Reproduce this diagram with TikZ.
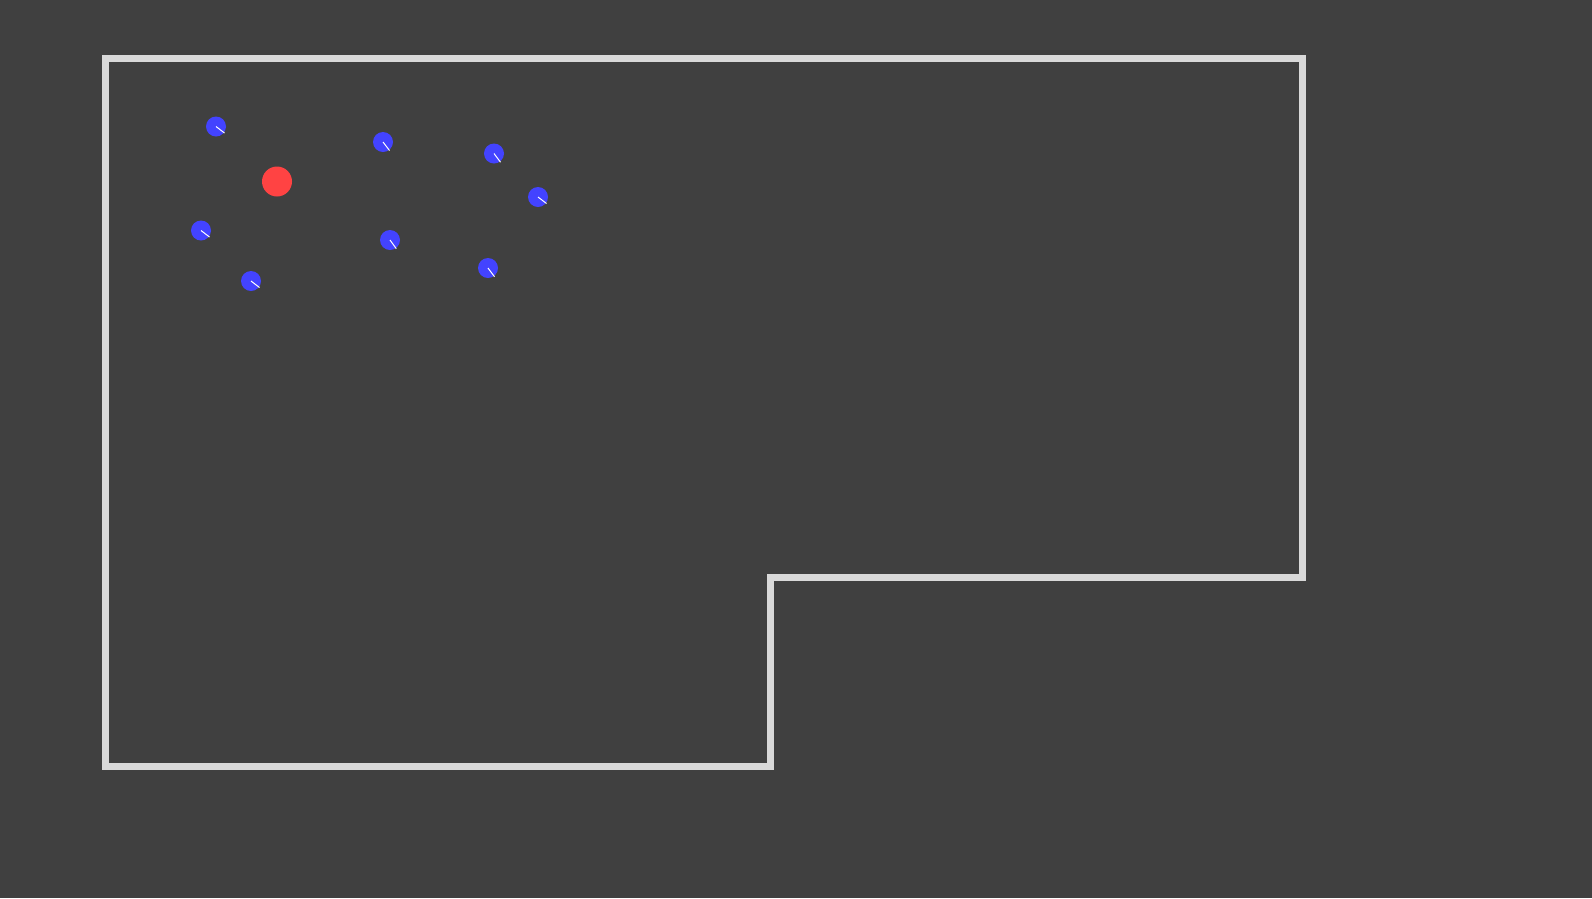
\documentclass[tikz,border=0pt]{standalone}
\definecolor{bg}{HTML}{404040}
\definecolor{wallc}{HTML}{D9D9D9}
\definecolor{agent}{HTML}{4343FF}
\definecolor{target}{HTML}{FF4343}
\begin{document}
\begin{tikzpicture}[x=1pt,y=-1pt,
  wall/.style={draw=wallc,line width=7pt,line join=miter},
  bluedot/.style={circle,fill=agent,draw=none,minimum size=20pt,inner sep=0pt},
  reddot/.style={circle,fill=target,draw=none,minimum size=30pt,inner sep=0pt},
  heading/.style={draw=white,line width=1pt}]
\fill[bg] (0,0) rectangle (1592,898);
\useasboundingbox (0,0) rectangle (1592,898);
\draw[wall] (105.5,58.5) -- (1302.5,58.5) -- (1302.5,577.5) -- (770.5,577.5) -- (770.5,766.5) -- (105.5,766.5) -- cycle;
\node[reddot] (r) at (277,181.5) {};
\node[bluedot] (b1) at (216,126.5) {};
\node[bluedot] (b2) at (201,230.5) {};
\node[bluedot] (b3) at (251,281) {};
\node[bluedot] (b4) at (383,142) {};
\node[bluedot] (b5) at (494,153.5) {};
\node[bluedot] (b6) at (538,197) {};
\node[bluedot] (b7) at (390,240) {};
\node[bluedot] (b8) at (488,268) {};
\draw[heading] (b1.center) -- ++(8.5,6.5);
\draw[heading] (b2.center) -- ++(8.5,6.5);
\draw[heading] (b3.center) -- ++(8.5,6.5);
\draw[heading] (b4.center) -- ++(6.5,8.5);
\draw[heading] (b5.center) -- ++(6.5,8.7);
\draw[heading] (b6.center) -- ++(8.5,6.5);
\draw[heading] (b7.center) -- ++(6.3,8.7);
\draw[heading] (b8.center) -- ++(6.5,8.7);
\end{tikzpicture}
\end{document}
